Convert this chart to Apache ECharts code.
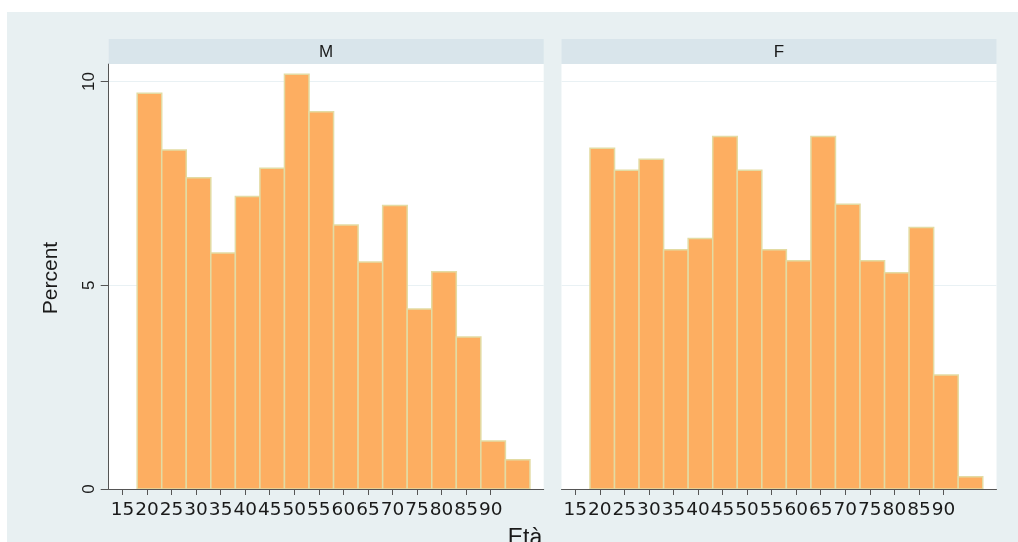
<!DOCTYPE html>
<html>
<head>
<meta charset="utf-8">
<script src="https://cdn.jsdelivr.net/npm/echarts@6/dist/echarts.min.js"></script>
<style>
  html, body { margin: 0; padding: 0; background: #ffffff; }
  #chart { width: 1018px; height: 542px; }
</style>
</head>
<body>
<div id="chart"></div>
<script>
// ---- data ----
const panels = ['M', 'F'];
const binEdges = [18, 23, 28, 33, 38, 43, 48, 53, 58, 63, 68, 73, 78, 83, 88, 93, 98];
const percentM = [9.71, 8.32, 7.64, 5.79, 7.18, 7.87, 10.18, 9.26, 6.48, 5.57, 6.96, 4.42, 5.33, 3.73, 1.18, 0.72];
const percentF = [8.36, 7.82, 8.09, 5.87, 6.15, 8.65, 7.82, 5.87, 5.60, 8.65, 6.99, 5.60, 5.31, 6.42, 2.80, 0.30];
const xTicks = [15, 20, 25, 30, 35, 40, 45, 50, 55, 60, 65, 70, 75, 80, 85, 90];
const yTicks = [0, 5, 10];
const xTitle = 'Età';
const yTitle = 'Percent';

// ---- layout / style ----
const outerBg = '#e8f0f2';
const headerBg = '#d9e5eb';
const barFill = '#fdae61';
const barStroke = '#e3dba3';
const axisColor = '#555555';
const textColor = '#1a1a1a';
const gridLineColor = '#e9f1f4';
const xMin = 12.2, xMax = 100.8, yMin = 0, yMax = 10.43;
const gridTop = 64, gridHeight = 425, gridWidth = 435;
const gridLefts = [108.7, 561.5];
const headerTop = 39, headerHeight = 25;

function toRows(vals) {
  return vals.map((v, i) => [binEdges[i], binEdges[i + 1], v]);
}
const seriesData = [toRows(percentM), toRows(percentF)];

function renderItem(params, api) {
  const x0 = api.value(0), x1 = api.value(1), y = api.value(2);
  const p0 = api.coord([x0, y]);
  const p1 = api.coord([x1, 0]);
  return {
    type: 'rect',
    shape: { x: p0[0], y: p0[1], width: p1[0] - p0[0], height: p1[1] - p0[1] },
    style: { fill: barFill, stroke: barStroke, lineWidth: 1.5 }
  };
}

const grids = gridLefts.map(l => ({
  left: l, top: gridTop, width: gridWidth, height: gridHeight,
  show: true, backgroundColor: '#ffffff', borderWidth: 0, containLabel: false
}));

const xAxes = panels.map((p, i) => ({
  type: 'value', gridIndex: i, min: xMin, max: xMax,
  axisLine: { show: true, onZero: false, lineStyle: { color: axisColor, width: 1 } },
  axisTick: { show: true, length: 6, customValues: xTicks, lineStyle: { color: axisColor } },
  axisLabel: {
    show: true, customValues: xTicks, margin: 12,
    fontFamily: 'DejaVu Sans', fontSize: 18.5, color: textColor
  },
  splitLine: { show: false }
}));

const yAxes = panels.map((p, i) => ({
  type: 'value', gridIndex: i, min: yMin, max: yMax, interval: 5,
  axisLine: { show: i === 0, lineStyle: { color: axisColor, width: 1 } },
  axisTick: { show: i === 0, length: 8, customValues: yTicks, lineStyle: { color: axisColor } },
  axisLabel: {
    show: i === 0, customValues: yTicks, rotate: 90, margin: 11,
    fontFamily: 'Liberation Sans', fontSize: 17, color: textColor
  },
  splitLine: { show: true, lineStyle: { color: gridLineColor, width: 1.2 } }
}));

const series = panels.map((p, i) => ({
  type: 'custom', xAxisIndex: i, yAxisIndex: i,
  renderItem: renderItem,
  encode: { x: [0, 1], y: 2 },
  data: seriesData[i],
  clip: true, silent: true
}));

const graphics = [
  { type: 'rect', z: -10, shape: { x: 7, y: 12, width: 1011, height: 530 }, style: { fill: outerBg } }
];
panels.forEach((p, i) => {
  graphics.push({
    type: 'rect', z: 1,
    shape: { x: gridLefts[i], y: headerTop, width: gridWidth, height: headerHeight },
    style: { fill: headerBg }
  });
  graphics.push({
    type: 'text', z: 2,
    x: gridLefts[i] + gridWidth / 2, y: headerTop + headerHeight / 2 + 1,
    style: {
      text: p, fill: textColor, font: '17px "Liberation Sans"',
      textAlign: 'center', textVerticalAlign: 'middle'
    }
  });
});
graphics.push({
  type: 'text', z: 2, x: 51, y: 278, rotation: Math.PI / 2,
  style: {
    text: yTitle, fill: textColor, font: '21px "Liberation Sans"',
    textAlign: 'center', textVerticalAlign: 'middle'
  }
});
graphics.push({
  type: 'text', z: 2, x: 525, y: 527,
  style: {
    text: xTitle, fill: textColor, font: '23px "Liberation Sans"',
    textAlign: 'center', textVerticalAlign: 'top'
  }
});

const chart = echarts.init(document.getElementById('chart'), null, { renderer: 'canvas' });
chart.setOption({
  backgroundColor: '#ffffff',
  animation: false,
  grid: grids,
  xAxis: xAxes,
  yAxis: yAxes,
  series: series,
  graphic: { elements: graphics }
});
</script>
</body>
</html>
